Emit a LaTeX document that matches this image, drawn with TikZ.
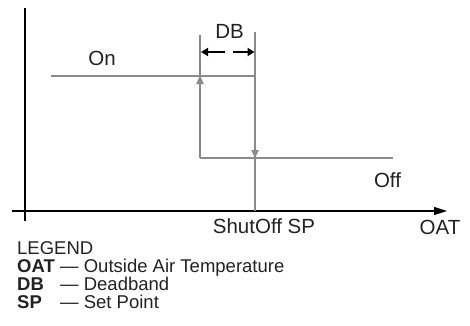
\documentclass[tikz,border=0pt]{standalone}
\usepackage{fontspec}
\setmainfont{Liberation Sans}
\usetikzlibrary{arrows.meta}
\definecolor{linegray}{HTML}{8A8A8A}
\definecolor{inkgray}{HTML}{222222}

\begin{document}
\begin{tikzpicture}[
    x=1pt, y=-1pt,
    >=Latex,
    axisline/.style={line width=1.3pt, draw=black},
    stateline/.style={line width=1.1pt, draw=linegray},
    flowedge/.style={-{Triangle[length=8pt,width=7.5pt]}, line width=1.1pt, draw=linegray, fill=linegray},
    dbedge/.style={-{Triangle[length=7pt,width=8pt]}, line width=2.2pt, draw=black},
    lbl/.style={anchor=base, inner sep=0pt, text=inkgray, font=\fontsize{20.5}{21}\selectfont},
    legendtext/.style={anchor=base west, inner sep=0pt, text=inkgray, align=left, font=\fontsize{18.5}{17.8}\selectfont}
]
\useasboundingbox (0,0) rectangle (470,325);
% axes
\coordinate (ytop) at (25,8);
\coordinate (ybot) at (25,221);
\coordinate (xleft) at (12,211);
\coordinate (xright) at (447,211);
\draw[axisline] (ytop) -- (ybot);
\draw[axisline, -{Triangle[length=13pt,width=8pt]}] (xleft) -- (xright);
% hysteresis loop
\coordinate (onstart) at (51,76);
\coordinate (onend) at (255,76);
\coordinate (uptip) at (200,76);
\coordinate (lefttop) at (200,35);
\coordinate (offstart) at (200,158);
\coordinate (offend) at (393,158);
\coordinate (righttop) at (255,32);
\coordinate (downtip) at (255,158);
\coordinate (shutoff) at (255,211);
\draw[stateline] (onstart) -- (onend);
\draw[stateline] (offstart) -- (offend);
\draw[stateline] (lefttop) -- (offstart);
\draw[stateline] (righttop) -- (shutoff);
\draw[flowedge] (offstart) -- (uptip);
\draw[flowedge] (onend) -- (downtip);
% deadband
\coordinate (dbl) at (225,52);
\coordinate (dbltip) at (201,52);
\coordinate (dbr) at (233,52);
\coordinate (dbrtip) at (254.5,52);
\draw[dbedge] (dbl) -- (dbltip);
\draw[dbedge] (dbr) -- (dbrtip);
% labels
\node[lbl] (db) at (229.5,38.5) {DB};
\node[lbl] (on) at (102,65) {On};
\node[lbl] (off) at (387.5,187.5) {Off};
\node[lbl] (sp) at (264,233) {ShutOff SP};
\node[lbl] (oat) at (440,234) {OAT};
% legend (base = last line)
\node[legendtext] (legend) at (17,308) {LEGEND\\
  \makebox[43pt][l]{\textbf{OAT}}\textemdash{} Outside Air Temperature\\
  \makebox[43pt][l]{\textbf{DB}}\textemdash{} Deadband\\
  \makebox[43pt][l]{\textbf{SP}}\textemdash{} Set Point};
\end{tikzpicture}
\end{document}
